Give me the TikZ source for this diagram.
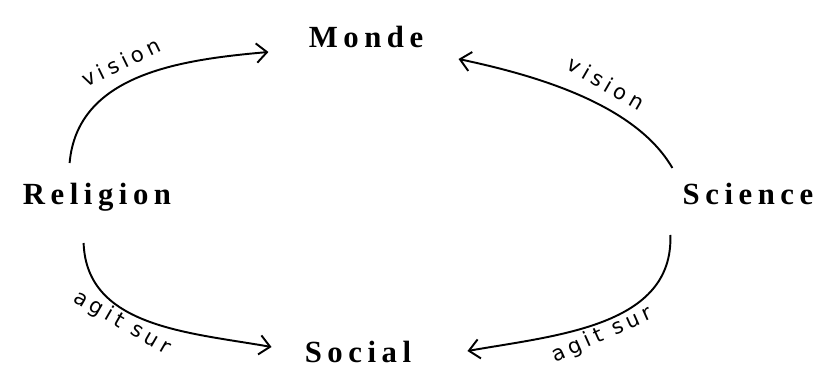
\documentclass[tikz,border=0pt]{standalone}
\usepackage{fontspec}
\setmainfont{Liberation Serif}
\newfontfamily\handfont[LetterSpace=22]{DejaVu Sans}
\usetikzlibrary{arrows.meta}
\tikzset{
	term/.style={inner sep=0pt, anchor=base, font=\fontsize{17.5}{20}\selectfont\bfseries\addfontfeature{LetterSpace=18}},
	link/.style={-{Straight Barb[length=6pt,width=11pt]}, line width=1.1pt},
	hand/.style={inner sep=0pt, font=\handfont\fontsize{12}{14}\selectfont}
}
\begin{document}
\begin{tikzpicture}
	\useasboundingbox[fill=white] (0,0) rectangle (16.48,7.68);

	\node[term] (monde) at (7.32,6.72) {Monde};
	\node[term] (religion) at (1.94,3.58) {Religion};
	\node[term] (science) at (14.96,3.58) {Science};
	\node[term] (social) at (7.16,0.42) {Social};

	\draw[link] ([shift={(0.94,0.84)}]religion.base west) to[out=85,in=185] ([shift={(-0.8,-0.08)}]monde.base west);
	\draw[link] ([shift={(-0.2,0.74)}]science.base west) to[out=120,in=-12,looseness=0.8] ([shift={(0.7,-0.22)}]monde.base east);
	\draw[link] ([shift={(1.22,-0.76)}]religion.base west) to[out=-88,in=170] ([shift={(-0.66,0.32)}]social.base west);
	\draw[link] ([shift={(-0.24,-0.6)}]science.base west) to[out=-88,in=10] ([shift={(1.12,0.24)}]social.base east);

	\node[hand, rotate=26] (visionR) at (2.42,6.44) {vision};
	\node[hand, rotate=-30] (visionS) at (12.12,6.02) {vision};
	\node[hand, rotate=-30] (agitR) at (2.44,1.22) {agit sur};
	\node[hand, rotate=24] (agitS) at (12.04,0.98) {agit sur};
\end{tikzpicture}
\end{document}
